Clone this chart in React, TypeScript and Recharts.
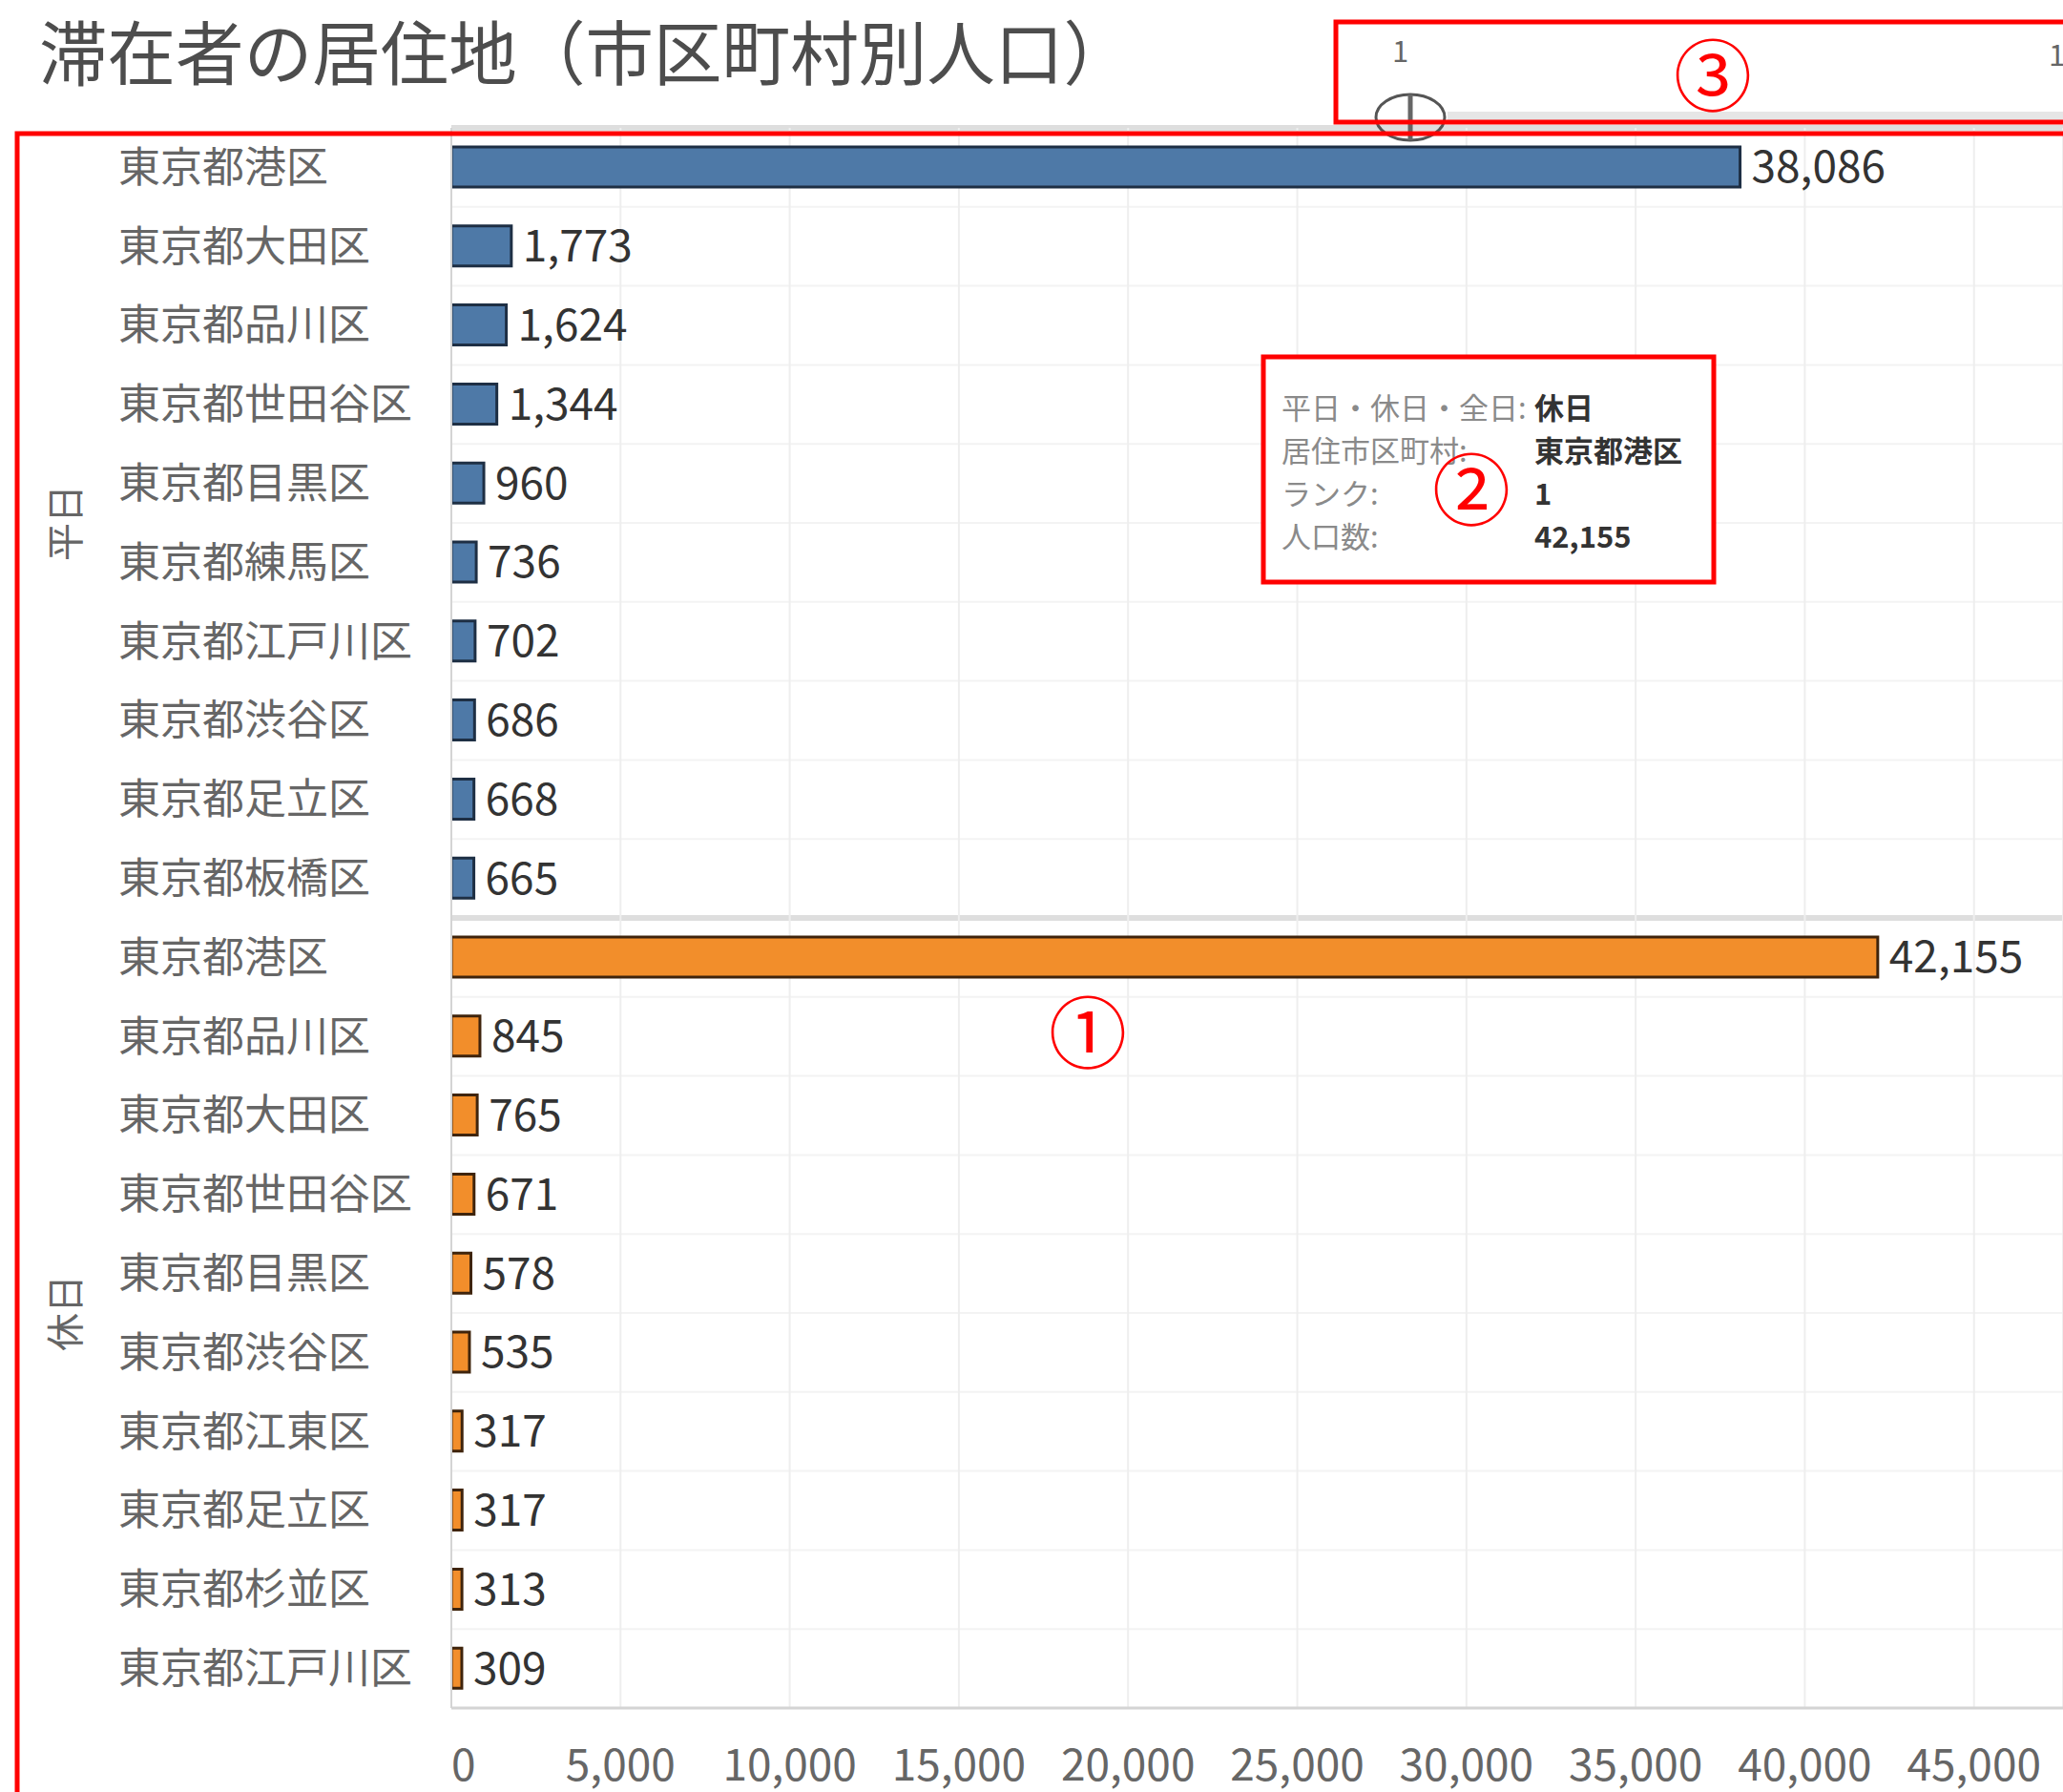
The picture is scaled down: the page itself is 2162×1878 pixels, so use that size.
import React from "react";
import { BarChart, Bar, XAxis, YAxis, CartesianGrid, Cell, LabelList } from "recharts";

// 平日 / 休日 top 10 residence districts
const weekdayDistricts = ["東京都港区", "東京都大田区", "東京都品川区", "東京都世田谷区", "東京都目黒区", "東京都練馬区", "東京都江戸川区", "東京都渋谷区", "東京都足立区", "東京都板橋区"];
const weekdayValues = [38086, 1773, 1624, 1344, 960, 736, 702, 686, 668, 665];

const holidayDistricts = ["東京都港区", "東京都品川区", "東京都大田区", "東京都世田谷区", "東京都目黒区", "東京都渋谷区", "東京都江東区", "東京都足立区", "東京都杉並区", "東京都江戸川区"];
const holidayValues = [42155, 845, 765, 671, 578, 535, 317, 317, 313, 309];

const groupNames = ["平日", "休日"];
const xTicks = [0, 5000, 10000, 15000, 20000, 25000, 30000, 35000, 40000, 45000];

const FONT = "'Noto Sans CJK JP', 'Noto Sans', sans-serif";
const W = 2162;
const H = 1878;
const TOP = 134;
const AXIS_H = 88;
const LEFT = 473;
const LABEL_X = 124;

const COLORS = { 平日: "#4e79a7", 休日: "#f28e2b" };
const BORDERS = { 平日: "#1e2f44", 休日: "#3f240c" };

const rows = [
    ...weekdayDistricts.map((name, i) => ({ id: `w${i}`, name, value: weekdayValues[i], group: groupNames[0] })),
    ...holidayDistricts.map((name, i) => ({ id: `h${i}`, name, value: holidayValues[i], group: groupNames[1] })),
];
const nameById: any = {};
rows.forEach((r) => (nameById[r.id] = r.name));

const rowH = (H - TOP - AXIS_H) / rows.length;

const YTick = (props: any) => {
    const { y, payload } = props;
    return (
        <text x={LABEL_X} y={y} dy="0.35em" textAnchor="start" fill="#666" fontSize={44} fontFamily={FONT}>
            {nameById[payload.value]}
        </text>
    );
};

const XTick = (props: any) => {
    const { x, y, payload } = props;
    return (
        <text x={x} y={y + 58} dy="0.35em" textAnchor={payload.value === 0 ? "start" : "middle"} fill="#666" fontSize={46} fontFamily={FONT}>
            {payload.value.toLocaleString("en-US")}
        </text>
    );
};

const gridLine = (props: any) => {
    const { x1, x2, y1, y2, index } = props;
    const major = index === 0 || index === weekdayDistricts.length;
    return (
        <line
            key={`hl-${index}`}
            x1={x1}
            x2={x2}
            y1={y1}
            y2={y2}
            stroke={major ? "#dedede" : "#f3f3f3"}
            strokeWidth={major ? 6 : 2}
        />
    );
};

const App = () => {
    const tip = [
        ["平日・休日・全日:", groupNames[1]],
        ["居住市区町村:", holidayDistricts[0]],
        ["ランク:", "1"],
        ["人口数:", holidayValues[0].toLocaleString("en-US")],
    ];
    const groupCenters = [TOP + rowH * 5, TOP + rowH * 15];

    return (
        <div style={{ position: "absolute", left: 0, top: 0, width: W, height: H, overflow: "hidden", background: "#fff", fontFamily: FONT }}>
            <BarChart
                width={W}
                height={H}
                data={rows}
                layout="vertical"
                margin={{ top: TOP, right: 0, bottom: 0, left: 0 }}
                barSize={42}
            >
                <CartesianGrid
                    stroke="#eeeeee"
                    strokeWidth={2}
                    horizontal={gridLine}
                    horizontalCoordinatesGenerator={({ offset }: any) =>
                        Array.from({ length: rows.length + 1 }, (_, i) => offset.top + (i * offset.height) / rows.length)
                    }
                />
                <XAxis
                    type="number"
                    domain={[0, 47630]}
                    ticks={xTicks}
                    height={AXIS_H}
                    tickLine={false}
                    tickSize={0}
                    axisLine={{ stroke: "#d4d4d4", strokeWidth: 3 }}
                    tick={<XTick />}
                    allowDataOverflow
                />
                <YAxis
                    type="category"
                    dataKey="id"
                    width={LEFT}
                    tickLine={false}
                    axisLine={{ stroke: "#d4d4d4", strokeWidth: 2 }}
                    tick={<YTick />}
                    interval={0}
                />
                <Bar dataKey="value" isAnimationActive={false}>
                    {rows.map((r, i) => (
                        <Cell key={`c-${i}`} fill={COLORS[r.group]} stroke={BORDERS[r.group]} strokeWidth={3} />
                    ))}
                    <LabelList
                        dataKey="value"
                        position="right"
                        offset={12}
                        formatter={(v: any) => Number(v).toLocaleString("en-US")}
                        style={{ fill: "#333", fontSize: 46, fontFamily: FONT }}
                    />
                </Bar>
            </BarChart>

            <svg width={W} height={H} style={{ position: "absolute", left: 0, top: 0, pointerEvents: "none" }} fontFamily={FONT}>
                {/* title */}
                <text x={41} y={51} dominantBaseline="central" fontSize={73} fill="#4d4d4d" textLength={1145} lengthAdjust="spacingAndGlyphs">
                    滞在者の居住地（市区町村別人口）
                </text>

                {/* group labels */}
                {groupNames.map((g, i) => (
                    <text
                        key={g}
                        x={66}
                        y={groupCenters[i]}
                        transform={`rotate(-90 66 ${groupCenters[i]})`}
                        textAnchor="middle"
                        dominantBaseline="central"
                        fontSize={40}
                        fill="#666"
                    >
                        {g}
                    </text>
                ))}

                {/* rank slider */}
                <rect x={1517} y={117} width={W - 1517} height={13} fill="#e6e6e6" />
                <text x={1459} y={51} dominantBaseline="central" fontSize={31} fill="#666">1</text>
                <text x={2147} y={55} dominantBaseline="central" fontSize={31} fill="#666">1</text>
                <ellipse cx={1478} cy={123} rx={36} ry={24} fill="none" stroke="#555" strokeWidth={3} />
                <line x1={1478} x2={1478} y1={99} y2={147} stroke="#666" strokeWidth={5} />

                {/* tooltip */}
                <rect x={1324} y={374} width={472} height={236} fill="#fff" stroke="#ff0000" strokeWidth={5} />
                {tip.map((t, i) => (
                    <g key={t[0]}>
                        <text x={1343} y={425 + i * 45.3} dominantBaseline="central" fontSize={31} fill="#8a8a8a">
                            {t[0]}
                        </text>
                        <text x={1608} y={425 + i * 45.3} dominantBaseline="central" fontSize={31} fill="#333" fontWeight="bold">
                            {t[1]}
                        </text>
                    </g>
                ))}

                {/* annotation frames */}
                <rect x={18} y={140} width={2300} height={1900} fill="none" stroke="#ff0000" strokeWidth={5} />
                <rect x={1400} y={23} width={900} height={105} fill="none" stroke="#ff0000" strokeWidth={5} />

                <text x={1140} y={1077} textAnchor="middle" dominantBaseline="central" fontSize={82} fill="#ff0000">①</text>
                <text x={1542} y={508} textAnchor="middle" dominantBaseline="central" fontSize={82} fill="#ff0000">②</text>
                <text x={1795} y={74} textAnchor="middle" dominantBaseline="central" fontSize={82} fill="#ff0000">③</text>
            </svg>
        </div>
    );
};

export default App;
